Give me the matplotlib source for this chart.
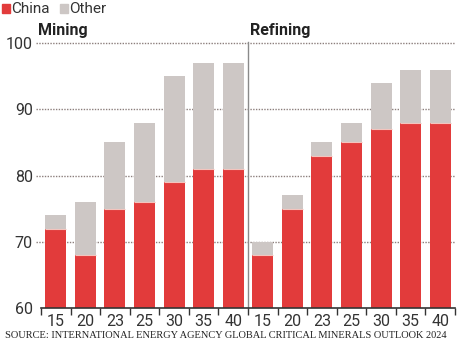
import numpy as np
import matplotlib.pyplot as plt
from matplotlib.patches import Rectangle

# China's share (%) of critical minerals supply, by year (2015 ... 2040)
years = ['15', '20', '23', '25', '30', '35', '40']
mining_china = [72, 68, 75, 76, 79, 81, 81]
mining_total = [74, 76, 85, 88, 95, 97, 97]
refining_china = [68, 75, 83, 85, 87, 88, 88]
refining_total = [70, 77, 85, 88, 94, 96, 96]

red = '#e23b3b'
grey = '#cdc7c5'
grid_col = '#8c7f7c'
sans = ['Liberation Sans Narrow', 'Roboto', 'DejaVu Sans']

china = mining_china + refining_china
total = mining_total + refining_total
labels = years + years
x = np.arange(len(china))

W, H = 464, 340
fig = plt.figure(figsize=(W / 100, H / 100), dpi=100)
ax = fig.add_axes([41 / W, (H - 308) / H, 414 / W, 265 / H])

ymin = 60
ax.bar(x, np.array(total) - ymin, bottom=ymin, width=0.71, color=grey, zorder=2)
ax.bar(x, np.array(china) - ymin, bottom=ymin, width=0.71, color=red, zorder=3)
# thin light seam on top of the red part
ax.hlines(china, x - 0.355, x + 0.355, color='#f4c4bd', lw=0.8, zorder=4)

ax.set_xlim(-0.5, len(x) - 0.5)
ax.set_ylim(60, 100)

# dotted gridlines
for y in [70, 80, 90, 100]:
    ax.axhline(y, xmin=-0.012, xmax=1, color=grid_col, lw=1.0,
               linestyle=(0, (1, 1)), zorder=1, clip_on=False)

# separator between the two panels
ax.plot([6.5, 6.5], [60, 100.2], color='#8a8a8a', lw=1.0, zorder=4, clip_on=False)

for s in ['top', 'right', 'left']:
    ax.spines[s].set_visible(False)
ax.spines['bottom'].set_color('#333333')
ax.spines['bottom'].set_linewidth(1.2)
ax.spines['bottom'].set_zorder(5)

ax.set_yticks([60, 70, 80, 90, 100])
ax.tick_params(axis='y', length=0, pad=6, labelsize=11.5, labelcolor='#333333')
ax.set_xticks(x)
ax.set_xticklabels(labels)
ax.set_xticks(np.arange(len(x) + 1) - 0.5, minor=True)
ax.tick_params(axis='x', which='major', length=0, pad=4, labelsize=11.5,
               labelcolor='#333333')
ax.tick_params(axis='x', which='minor', length=5, width=1.0, color='#333333')
for t in ax.get_xticklabels() + ax.get_yticklabels():
    t.set_family(sans)

# panel titles
fig.text(38 / W, (H - 30) / H, 'Mining', fontsize=11.5, fontweight='bold',
         color='#222222', va='center', ha='left', family=sans)
fig.text(250 / W, (H - 30) / H, 'Refining', fontsize=11.5, fontweight='bold',
         color='#222222', va='center', ha='left', family=sans)

# legend
fig.add_artist(Rectangle((2 / W, (H - 13) / H), 8 / W, 9 / H, color=red,
                         transform=fig.transFigure))
fig.text(11 / W, (H - 9) / H, 'China', fontsize=11, color='#333333',
         va='center', ha='left', family=sans)
fig.add_artist(Rectangle((60 / W, (H - 13) / H), 8 / W, 9 / H, color=grey,
                         transform=fig.transFigure))
fig.text(69 / W, (H - 9) / H, 'Other', fontsize=11, color='#333333',
         va='center', ha='left', family=sans)

# source line
fig.text(5 / W, (H - 338.5) / H,
         'SOURCE: INTERNATIONAL ENERGY AGENCY GLOBAL CRITICAL MINERALS OUTLOOK 2024',
         fontsize=7.5, color='#222222', va='baseline', ha='left',
         family=['Liberation Serif', 'DejaVu Serif'])

fig.savefig('out.png', dpi=100)
